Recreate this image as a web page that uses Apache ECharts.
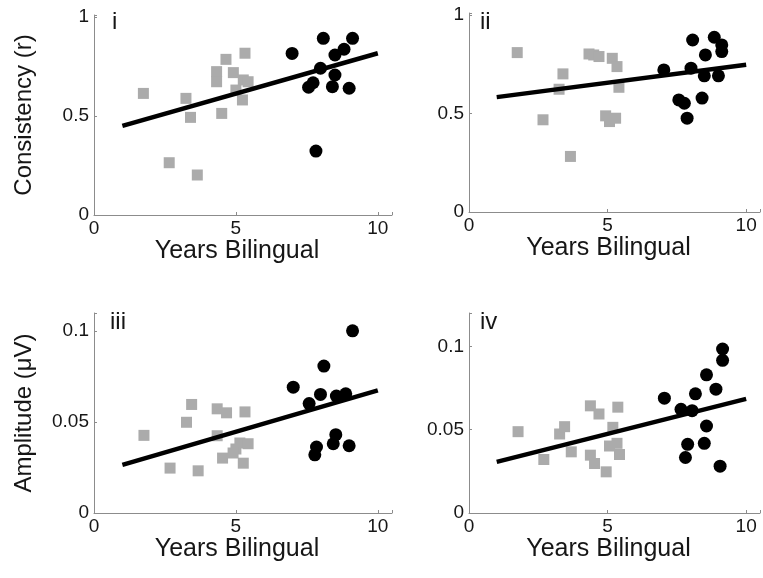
<!DOCTYPE html>
<html>
<head>
<meta charset="utf-8">
<script src="https://cdn.jsdelivr.net/npm/echarts@6/dist/echarts.min.js"></script>
<style>
  html, body { margin: 0; padding: 0; background: #fff; }
  #chart { width: 763px; height: 578px; }
</style>
</head>
<body>
<div id="chart"></div>
<script>
// Panel i: consistency vs. years bilingual
const consistI_gray = [
  [1.74, 0.614], [3.24, 0.589], [3.40, 0.493], [4.50, 0.513], [2.65, 0.264],
  [3.64, 0.202], [4.65, 0.786], [5.32, 0.817], [4.32, 0.724], [4.32, 0.673],
  [4.91, 0.719], [5.00, 0.631], [5.26, 0.682], [5.43, 0.673], [5.23, 0.581]
];
const consistI_black = [
  [6.98, 0.816], [8.08, 0.892], [9.11, 0.892], [8.81, 0.837], [8.49, 0.808],
  [7.98, 0.741], [8.49, 0.707], [7.72, 0.668], [7.56, 0.645], [8.40, 0.648],
  [8.99, 0.640], [7.82, 0.323]
];
const consistI_fit = [[1, 0.450], [10, 0.817]];

// Panel ii: consistency vs. years bilingual
const consistII_gray = [
  [1.74, 0.809], [3.39, 0.701], [3.25, 0.623], [2.67, 0.468], [3.66, 0.282],
  [4.33, 0.802], [4.50, 0.797], [4.69, 0.789], [5.17, 0.780], [5.34, 0.738],
  [5.41, 0.633], [4.93, 0.488], [5.07, 0.459], [5.29, 0.476]
];
const consistII_black = [
  [7.03, 0.721], [8.07, 0.873], [8.85, 0.887], [9.12, 0.848], [9.12, 0.814],
  [8.53, 0.797], [8.01, 0.730], [8.49, 0.691], [9.00, 0.691], [7.57, 0.569],
  [7.77, 0.552], [7.87, 0.476], [8.41, 0.578]
];
const consistII_fit = [[1, 0.583], [10, 0.747]];

// Panel iii: amplitude vs. years bilingual
const ampIII_gray = [
  [1.76, 0.0427], [3.26, 0.0499], [3.44, 0.0597], [2.68, 0.0247], [3.67, 0.0232],
  [4.34, 0.0573], [4.67, 0.0551], [5.32, 0.0556], [4.34, 0.0425], [4.53, 0.0302],
  [5.00, 0.0352], [5.14, 0.0385], [5.43, 0.0381], [5.26, 0.0274], [4.90, 0.0330]
];
const ampIII_black = [
  [7.02, 0.0692], [8.10, 0.0808], [9.11, 0.1002], [7.98, 0.0652], [7.58, 0.0602],
  [8.54, 0.0643], [8.87, 0.0656], [8.52, 0.0431], [8.43, 0.0381], [8.99, 0.0370],
  [7.84, 0.0363], [7.78, 0.0320]
];
const ampIII_fit = [[1, 0.0265], [10, 0.0674]];

// Panel iv: amplitude vs. years bilingual
const ampIV_gray = [
  [1.77, 0.0488], [3.27, 0.0474], [3.45, 0.0518], [2.70, 0.0321], [3.69, 0.0367],
  [4.38, 0.0643], [4.69, 0.0594], [5.37, 0.0635], [5.19, 0.0514], [4.38, 0.0347],
  [4.53, 0.0297], [4.95, 0.0247], [5.07, 0.0402], [5.34, 0.0418], [5.43, 0.0351]
];
const ampIV_black = [
  [7.05, 0.0689], [7.65, 0.0622], [8.05, 0.0614], [8.17, 0.0715], [8.57, 0.0829],
  [8.91, 0.0743], [9.15, 0.0984], [9.15, 0.0916], [8.57, 0.0522], [8.49, 0.0418],
  [7.89, 0.0412], [7.81, 0.0333], [9.06, 0.0281]
];
const ampIV_fit = [[1, 0.0307], [10, 0.0685]];

const panelLabels = ['i', 'ii', 'iii', 'iv'];
const xTitle = 'Years Bilingual';
const yTitles = ['Consistency (r)', 'Amplitude (\u03bcV)'];

const FONT = 'Liberation Sans, Arial, sans-serif';
const TEXT = '#161616';
const GRAY = '#ababab';
const AXIS_COLOR = '#8c8c8c';

function onStep(v, step) {
  const k = v / step;
  return Math.abs(k - Math.round(k)) < 1e-6;
}

const grids = [
  { left: 94, top: 15, width: 298, height: 200 },
  { left: 469, top: 13, width: 292, height: 199 },
  { left: 94, top: 313, width: 298, height: 200 },
  { left: 469, top: 313, width: 292, height: 200 }
];

const yRanges = [
  { max: 1.01, step: 0.5 },
  { max: 1.01, step: 0.5 },
  { max: 0.11, step: 0.05 },
  { max: 0.12, step: 0.05 }
];

const xAxes = grids.map((g, i) => ({
  type: 'value', gridIndex: i, min: 0, max: 10.5, interval: 5,
  name: xTitle, nameLocation: 'middle', nameGap: 17,
  nameTextStyle: {
    fontFamily: FONT, fontSize: 25, color: TEXT, verticalAlign: 'top',
    padding: [0, 12, 0, 0]
  },
  axisLine: { show: true, lineStyle: { color: AXIS_COLOR, width: 1 } },
  axisTick: { show: true, inside: true, length: 3, lineStyle: { color: AXIS_COLOR } },
  axisLabel: {
    fontFamily: FONT, fontSize: 19, color: TEXT, margin: 4,
    formatter: v => (onStep(v, 5) ? String(v) : '')
  },
  splitLine: { show: false }
}));

const yAxes = grids.map((g, i) => ({
  type: 'value', gridIndex: i, min: 0, max: yRanges[i].max, interval: yRanges[i].step,
  name: i % 2 === 0 ? yTitles[i / 2] : '',
  nameLocation: 'middle', nameRotate: 90, nameGap: 58,
  nameTextStyle: { fontFamily: FONT, fontSize: 24, color: TEXT },
  axisLine: { show: true, lineStyle: { color: AXIS_COLOR, width: 1 } },
  axisTick: { show: true, inside: true, length: 3, lineStyle: { color: AXIS_COLOR } },
  axisLabel: {
    fontFamily: FONT, fontSize: 19, color: TEXT, margin: 5,
    formatter: v => (onStep(v, yRanges[i].step) ? String(+v.toFixed(4)) : '')
  },
  splitLine: { show: false }
}));

const panels = [
  [consistI_gray, consistI_black, consistI_fit],
  [consistII_gray, consistII_black, consistII_fit],
  [ampIII_gray, ampIII_black, ampIII_fit],
  [ampIV_gray, ampIV_black, ampIV_fit]
];

const series = [];
panels.forEach((p, i) => {
  series.push({
    type: 'scatter', xAxisIndex: i, yAxisIndex: i, data: p[0],
    symbol: 'rect', symbolSize: 11, itemStyle: { color: GRAY, opacity: 1 }, z: 2
  });
  series.push({
    type: 'scatter', xAxisIndex: i, yAxisIndex: i, data: p[1],
    symbol: 'circle', symbolSize: 13, itemStyle: { color: '#000', opacity: 1 }, z: 3
  });
  series.push({
    type: 'line', xAxisIndex: i, yAxisIndex: i, data: p[2],
    showSymbol: false, lineStyle: { color: '#000', width: 4.5 }, z: 4
  });
});

const labelPos = [[112, 10], [480, 10], [110, 310], [480, 310]];
const titles = panelLabels.map((t, i) => ({
  text: t, left: labelPos[i][0], top: labelPos[i][1], padding: 0,
  textStyle: { fontFamily: FONT, fontSize: 24, fontWeight: 'normal', color: TEXT }
}));

const chart = echarts.init(document.getElementById('chart'), null, { renderer: 'canvas' });
chart.setOption({
  animation: false,
  backgroundColor: '#fff',
  title: titles,
  grid: grids,
  xAxis: xAxes,
  yAxis: yAxes,
  series: series
});
</script>
</body>
</html>
